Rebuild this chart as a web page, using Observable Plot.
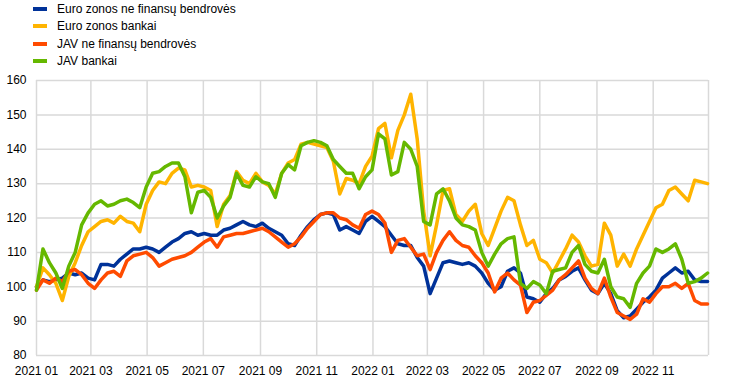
<!DOCTYPE html>
<html><head><meta charset="utf-8">
<script src="https://cdn.jsdelivr.net/npm/d3@7"></script>
<script src="https://cdn.jsdelivr.net/npm/@observablehq/plot@0.6"></script>
<style>
body{margin:0;background:#fff;font-family:Arial,"Liberation Sans",sans-serif;}
#legend{position:relative;height:70px;}
.item{position:absolute;left:33px;height:17px;display:flex;align-items:center;font-size:12px;color:#000;white-space:nowrap;}
.sw{width:14px;height:4px;margin-right:10px;}
</style></head><body>
<div id="legend"></div><div id="chart"></div>
<script>
const seriesNames = ["Euro zonos ne finansų bendrovės","Euro zonos bankai","JAV ne finansų bendrovės","JAV bankai"];
const seriesColors = ["#003299","#FFB400","#FF4B00","#65B800"];

const dates = [
"2021-01-01","2021-01-08","2021-01-15","2021-01-22","2021-01-29","2021-02-05","2021-02-12","2021-02-19","2021-02-26",
"2021-03-05","2021-03-12","2021-03-19","2021-03-26","2021-04-02","2021-04-09","2021-04-16","2021-04-23","2021-04-30",
"2021-05-07","2021-05-14","2021-05-21","2021-05-28","2021-06-04","2021-06-11","2021-06-18","2021-06-25","2021-07-02",
"2021-07-09","2021-07-16","2021-07-23","2021-07-30","2021-08-06","2021-08-13","2021-08-20","2021-08-27","2021-09-03",
"2021-09-10","2021-09-17","2021-09-24","2021-10-01","2021-10-08","2021-10-15","2021-10-22","2021-10-29","2021-11-05",
"2021-11-12","2021-11-19","2021-11-26","2021-12-03","2021-12-10","2021-12-17","2021-12-24","2021-12-31","2022-01-07",
"2022-01-14","2022-01-21","2022-01-28","2022-02-04","2022-02-11","2022-02-18","2022-02-25","2022-03-04","2022-03-11",
"2022-03-18","2022-03-25","2022-04-01","2022-04-08","2022-04-15","2022-04-22","2022-04-29","2022-05-06","2022-05-13",
"2022-05-20","2022-05-27","2022-06-03","2022-06-10","2022-06-17","2022-06-24","2022-07-01","2022-07-08","2022-07-15",
"2022-07-22","2022-07-29","2022-08-05","2022-08-12","2022-08-19","2022-08-26","2022-09-02","2022-09-09","2022-09-16",
"2022-09-23","2022-09-30","2022-10-07","2022-10-14","2022-10-21","2022-10-28","2022-11-04","2022-11-11","2022-11-18",
"2022-11-25","2022-12-02","2022-12-09","2022-12-16","2022-12-23","2022-12-30"];

const euroNfc = [100,102,101.5,102,102.5,104,103.5,104,102.5,102,106.5,106.5,106,108,109.5,111,111,111.5,111,110,111.5,113,114,115.5,116,115,115.5,115,115,116.5,117,118,119,118,117.5,118.5,117,116,115,112.5,112,115,117.5,119.5,121,121.5,121,116.5,117.5,116.5,115.5,119,120.5,119,117.5,115,112.5,112,112,108.5,106,98,102.5,107,107.5,107,106.5,107,106,104,101,99,100,104.5,105.5,104,97,96.5,95.5,98,99.5,102,103,104.5,105.5,102,99,98,101,98,93,91,91.5,93.5,95.5,97,99,102.5,104,105.5,104,104.5,102,101.5,101.5];

const euroBanks = [100,105.5,103.5,101,96,103,107,112,116,117.5,119,119.5,118.5,120.5,119,118.5,116,124,128,130.5,130,133,134.5,134,129,129.5,129,128,117.5,124,126.5,133.5,131,130,133,130.5,129.5,127,133,136,137,141.5,142,141.5,141,140.5,136.5,127,131.5,131,130,135,138,146,147.5,137.5,145.5,150,156,143,122,109,118,128,128.5,121,119,122,124,115.5,112,117,122,126,125,118,112,113.5,108,107,104,107.5,111,115,113,109,106,106.5,118.5,115,106,109.5,106,111,115,119,123,124,128,129,127,125,131,130.5,130];

const usNfc = [99,102,101,102.5,101.5,104.5,105,103.5,101,99.5,102,104,104.5,103,107.5,109,109.5,110,108.5,106,107,108,108.5,109,110,111.5,113,114,111.5,114.5,115,115.5,115.5,116,116.5,117,116,114.5,113,111.5,112.5,114.5,117,119,121,121.5,121.5,120,119.5,118,117,121,122,121,118.5,110,113.5,114,111.5,109,109.5,105,110,113.5,116,113.5,112,111.5,109,107,104,98.5,102.5,104,102,100.5,92.5,95.5,96,97.5,99,102,103.5,105.5,107.5,102.5,99.5,98,102.5,97,92.5,91.5,90.5,92,96.5,95.5,98,100,100,101,99.5,101,96,95,95];

const usBanks = [99,111,107,104,99.5,106,110,118,121.5,124,125,123.5,124,125,125.5,124.5,123,129,133,133.5,135,136,136,132,121.5,127.5,128,126,120,123.5,126,133,129.5,129,132,130.5,130,126,133,135.5,134,141,142,142.5,142,141,137,135,133,133,128.5,132,134,144.5,143,132.5,133.5,142,140,135,119,118,127,128.5,125,120,118,117.5,116.5,110,106,109.5,112.5,114,114.5,101,99.5,101.5,100.5,98,104.5,105,105.5,110,112,106.5,104.5,104,108,100,97,96.5,94,101,104,106,111,110,111,112.5,108,101,101.5,102.5,104];

const xTicks = ["2021-01-01","2021-03-01","2021-05-01","2021-07-01","2021-09-01","2021-11-01","2022-01-01","2022-03-01","2022-05-01","2022-07-01","2022-09-01","2022-11-01"];
const xEnd = "2022-12-31";
const yTicks = [80,90,100,110,120,130,140,150,160];

// legend
const leg = document.getElementById("legend");
seriesNames.forEach((n,i)=>{
  const d = document.createElement("div");
  d.className="item"; d.style.top=(i*17.5)+"px";
  d.innerHTML = `<span class="sw" style="background:${seriesColors[i]}"></span><span>${n}</span>`;
  leg.appendChild(d);
});

const parse = d3.utcParse("%Y-%m-%d");
const allSeries = [euroNfc, euroBanks, usNfc, usBanks];
const rows = [];
allSeries.forEach((vals,si)=>vals.forEach((v,i)=>rows.push({date:parse(dates[i]), value:v, series:seriesNames[si]})));
const tickDates = xTicks.map(parse);

const chart = Plot.plot({
  width:744, height:320,
  marginTop:10, marginBottom:35, marginLeft:36, marginRight:36,
  style:{fontFamily:"Arial, 'Liberation Sans', sans-serif", fontSize:"12px", color:"#000", background:"#fff"},
  x:{type:"utc", domain:[parse(xTicks[0]), parse(xEnd)]},
  y:{domain:[80,160]},
  color:{domain:seriesNames, range:seriesColors},
  marks:[
    Plot.ruleY(yTicks, {stroke:"#d9d9d9", strokeWidth:1.5}),
    Plot.ruleX([...tickDates, parse(xEnd)], {stroke:"#d9d9d9", strokeWidth:1.5}),
    ...seriesNames.map(n => Plot.lineY(rows.filter(r=>r.series===n), {x:"date", y:"value", stroke:"series", strokeWidth:3.5, strokeLinejoin:"round", strokeLinecap:"round"})),
    Plot.axisX({ticks:tickDates, tickFormat:d3.utcFormat("%Y %m"), tickSize:0, tickPadding:11, label:null}),
    Plot.axisY({ticks:yTicks, tickSize:0, tickPadding:10, label:null})
  ]
});
document.getElementById("chart").appendChild(chart);
</script></body></html>
